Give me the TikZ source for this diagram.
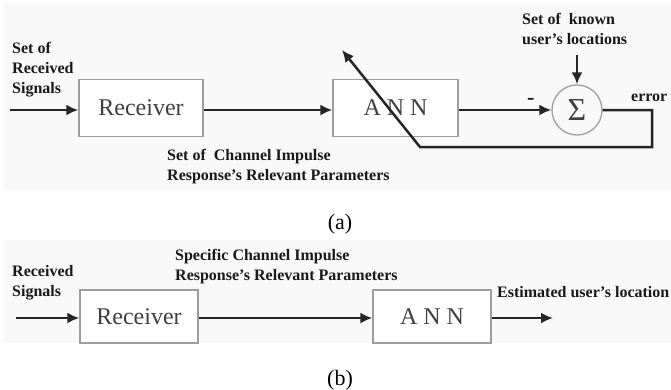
\documentclass[tikz,border=0pt]{standalone}
\usepackage{fontspec}
\setmainfont{Liberation Serif}
\usetikzlibrary{arrows.meta,positioning}

\definecolor{panel}{gray}{0.975}
\definecolor{boxline}{gray}{0.62}
\definecolor{boxtext}{gray}{0.25}

\tikzset{
    blk/.style={draw=boxline, line width=1.3pt, fill=white, text=boxtext,
        font=\fontsize{24}{26}\selectfont, inner sep=0pt},
    lbl/.style={font=\fontsize{16}{20}\selectfont\bfseries, text=black!90,
        align=left, inner sep=0pt, anchor=west},
    subcap/.style={font=\fontsize{22}{24}\selectfont, inner sep=0pt},
    wire/.style={line width=2.5pt, black!85},
    >={Latex[length=12pt,width=11pt]}
}

\begin{document}
\begin{tikzpicture}[x=1pt,y=-1pt]
    \useasboundingbox (0,0) rectangle (671,389);

    % (a) training set-up
    \fill[panel] (4,3) rectangle (671,190);
    \node[blk, minimum width=124pt, minimum height=57pt] (rxa) at (141,108) {Receiver};
    \node[blk, minimum width=125pt, minimum height=57pt] (anna) at (395.5,108) {A N N};
    \node[draw=boxline, line width=1.3pt, circle, minimum size=50pt, inner sep=0pt,
        text=boxtext, font=\fontsize{32}{32}\selectfont] (sum) at (577,110) {Σ};

    \coordinate (ina) at (10,110);
    \coordinate (ka) at (577,55);
    \coordinate (fbr) at (652,147);
    \coordinate (fbl) at (420,147);
    \coordinate (tip) at (342,50);

    \draw[wire,->] (ina) -- (ina -| rxa.west);
    \draw[wire,->] (ina -| rxa.east) -- (ina -| anna.west);
    \draw[wire,->] (ina -| anna.east) -- (sum.west);
    \draw[wire,->] (ka) -- (sum.north);
    \draw[wire,->] (sum.east) -| (fbr) -- (fbl) -- (tip);

    \node[lbl] (sig) at (12,70) {Set of\\Received\\Signals};
    \node[lbl] (cir) at (167,167) {Set of\ \ Channel Impulse\\Response's Relevant Parameters};
    \node[lbl] (known) at (522,29) {Set of\ \ known\\user's locations};
    \node[lbl] (err) at (631,98) {error};
    \node[lbl, font=\fontsize{22}{22}\selectfont\bfseries] (minus) at (527,101) {-};
    \node[subcap] (capa) at (340,224) {(a)};

    % (b) estimation
    \fill[panel] (4,240) rectangle (671,343);
    \node[blk, minimum width=118pt, minimum height=53pt] (rxb) at (139,316.5) {Receiver};
    \node[blk, minimum width=118pt, minimum height=53pt] (annb) at (432,316.5) {A N N};

    \coordinate (inb) at (16,318);
    \coordinate (outb) at (553,318);

    \draw[wire,->] (inb) -- (inb -| rxb.west);
    \draw[wire,->] (inb -| rxb.east) -- (inb -| annb.west);
    \draw[wire,->] (inb -| annb.east) -- (outb);

    \node[lbl] (sigb) at (12,283) {Received\\Signals};
    \node[lbl] (cirb) at (175,267) {Specific Channel Impulse\\Response's Relevant Parameters};
    \node[lbl] (est) at (497,292) {Estimated user's location};
    \node[subcap] (capb) at (340,380) {(b)};
\end{tikzpicture}
\end{document}
